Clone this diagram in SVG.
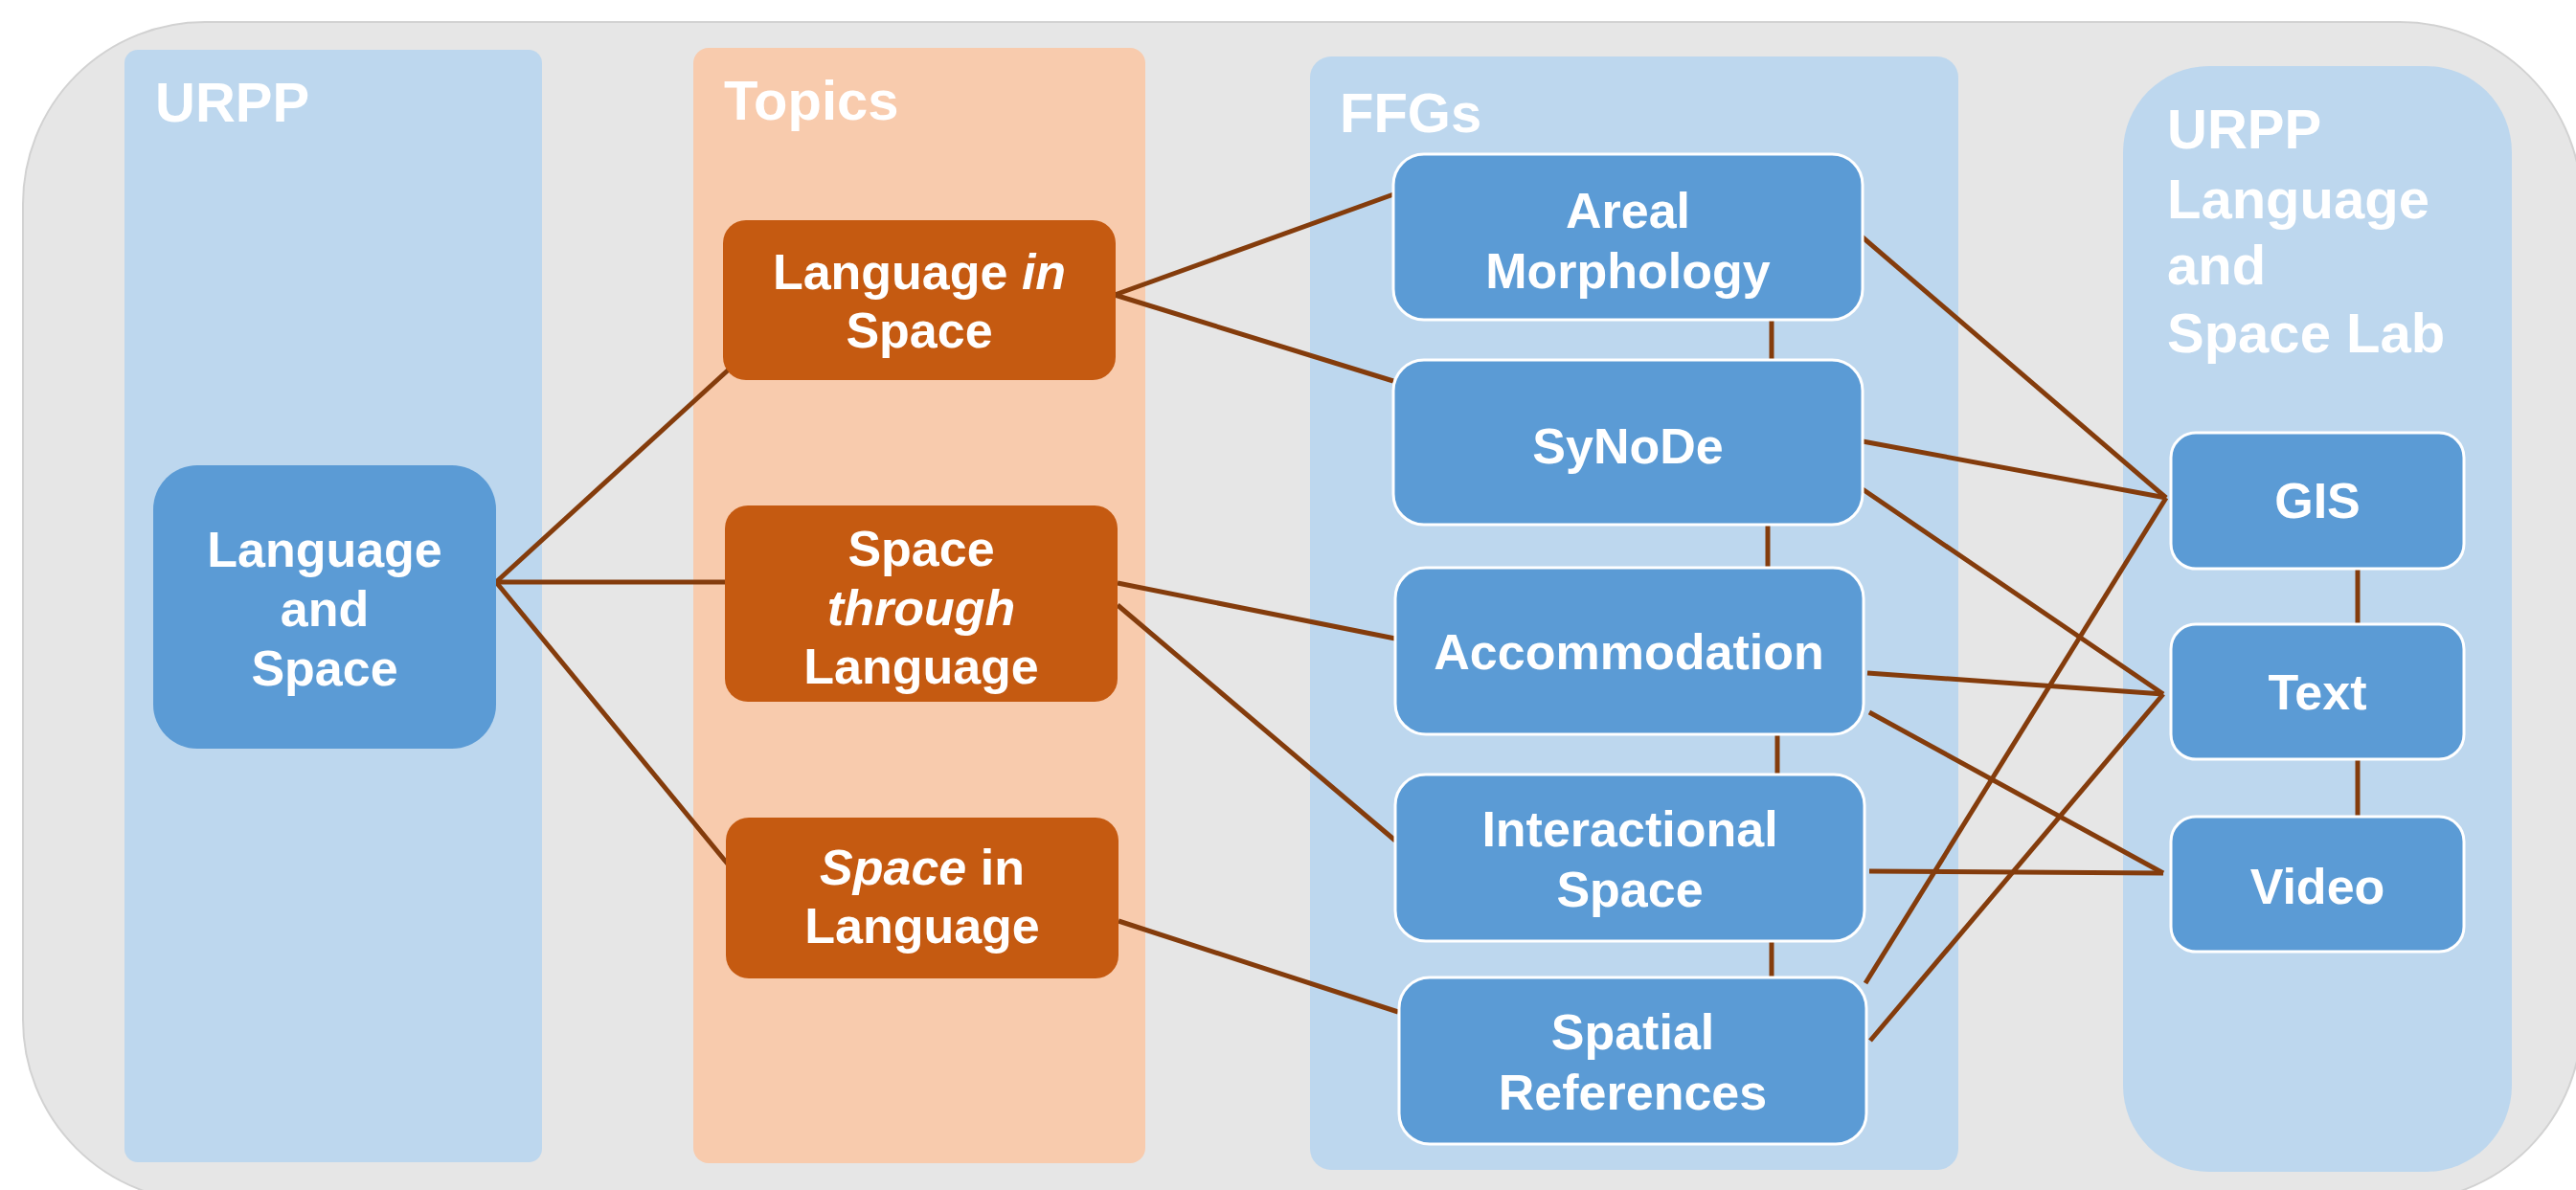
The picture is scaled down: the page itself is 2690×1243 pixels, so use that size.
<svg xmlns="http://www.w3.org/2000/svg" width="2690" height="1243" viewBox="0 0 2690 1243">
<style>
.bg{fill:#E6E6E6;stroke:#D2D2D2;stroke-width:2}
.colb{fill:#BDD7EE}
.colo{fill:#F8CBAD}
.hdr{fill:#FFFFFF;font-family:"Liberation Sans",Arial,sans-serif;font-weight:bold;font-size:58px}
.nb{fill:#5B9BD5}
.nbw{fill:#5B9BD5;stroke:#FFFFFF;stroke-width:3}
.no{fill:#C55A11}
.t{fill:#FFFFFF;font-family:"Liberation Sans",Arial,sans-serif;font-weight:bold;font-size:52px;text-anchor:middle}
.i{font-style:italic}
.ln{stroke:#843C0C;stroke-width:5;fill:none;stroke-linecap:butt}
</style>
<rect width="2690" height="1243" fill="#FFFFFF"/>
<rect class="bg" x="24" y="23" width="2672" height="1232" rx="190" ry="190"/>
<g id="col-urpp">
<rect class="colb" x="130" y="52" width="436" height="1162" rx="14"/>
<text class="hdr" x="162" y="127">URPP</text>
</g>
<g id="col-topics">
<rect class="colo" x="724" y="50" width="472" height="1165" rx="16"/>
<text class="hdr" x="756" y="125">Topics</text>
</g>
<g id="col-ffgs">
<rect class="colb" x="1368" y="59" width="677" height="1163" rx="22"/>
<text class="hdr" x="1399" y="138">FFGs</text>
</g>
<g id="col-lab">
<rect class="colb" x="2217" y="69" width="406" height="1155" rx="90"/>
<text class="hdr" x="2263" y="155">URPP</text>
<text class="hdr" x="2263" y="228">Language</text>
<text class="hdr" x="2263" y="297">and</text>
<text class="hdr" x="2263" y="368">Space Lab</text>
</g>
<g id="connectors">
<line class="ln" x1="518" y1="608" x2="762" y2="385"/>
<line class="ln" x1="518" y1="608" x2="757" y2="608"/>
<line class="ln" x1="518" y1="608" x2="762" y2="905"/>
<line class="ln" x1="1164" y1="308" x2="1458" y2="202"/>
<line class="ln" x1="1164" y1="308" x2="1455" y2="398"/>
<line class="ln" x1="1167" y1="609" x2="1457" y2="667"/>
<line class="ln" x1="1167" y1="632" x2="1457" y2="878"/>
<line class="ln" x1="1168" y1="962" x2="1460" y2="1057"/>
<line class="ln" x1="1944" y1="247" x2="2262" y2="520"/>
<line class="ln" x1="1945" y1="461" x2="2262" y2="520"/>
<line class="ln" x1="1945" y1="511" x2="2259" y2="725"/>
<line class="ln" x1="1950" y1="703" x2="2259" y2="725"/>
<line class="ln" x1="1952" y1="744" x2="2259" y2="912"/>
<line class="ln" x1="1952" y1="910" x2="2259" y2="912"/>
<line class="ln" x1="1948" y1="1027" x2="2262" y2="520"/>
<line class="ln" x1="1953" y1="1087" x2="2259" y2="725"/>
<line class="ln" x1="1850" y1="333" x2="1850" y2="377"/>
<line class="ln" x1="1846" y1="548" x2="1846" y2="593"/>
<line class="ln" x1="1856" y1="767" x2="1856" y2="809"/>
<line class="ln" x1="1850" y1="983" x2="1850" y2="1021"/>
<line class="ln" x1="2462" y1="594" x2="2462" y2="652"/>
<line class="ln" x1="2462" y1="793" x2="2462" y2="853"/>
</g>
<g id="n-language-and-space">
<rect class="nb" x="160" y="486" width="358" height="296" rx="46"/>
<text class="t" x="339" y="592">Language</text>
<text class="t" x="339" y="654">and</text>
<text class="t" x="339" y="716">Space</text>
</g>
<g id="n-language-in-space">
<rect class="no" x="755" y="230" width="410" height="167" rx="24"/>
<text class="t" x="960" y="302">Language <tspan class="i">in</tspan></text>
<text class="t" x="960" y="363">Space</text>
</g>
<g id="n-space-through-language">
<rect class="no" x="757" y="528" width="410" height="205" rx="24"/>
<text class="t" x="962" y="591">Space</text>
<text class="t i" x="962" y="653">through</text>
<text class="t" x="962" y="714">Language</text>
</g>
<g id="n-space-in-language">
<rect class="no" x="758" y="854" width="410" height="168" rx="24"/>
<text class="t" x="963" y="924"><tspan class="i">Space</tspan> in</text>
<text class="t" x="963" y="985">Language</text>
</g>
<g id="n-areal-morphology">
<rect class="nbw" x="1455" y="161" width="490" height="173" rx="32"/>
<text class="t" x="1700" y="238">Areal</text>
<text class="t" x="1700" y="301">Morphology</text>
</g>
<g id="n-synode">
<rect class="nbw" x="1455" y="376" width="490" height="172" rx="32"/>
<text class="t" x="1700" y="484">SyNoDe</text>
</g>
<g id="n-accommodation">
<rect class="nbw" x="1457" y="593" width="489" height="174" rx="32"/>
<text class="t" x="1701" y="699">Accommodation</text>
</g>
<g id="n-interactional-space">
<rect class="nbw" x="1457" y="809" width="490" height="174" rx="32"/>
<text class="t" x="1702" y="884">Interactional</text>
<text class="t" x="1702" y="947">Space</text>
</g>
<g id="n-spatial-references">
<rect class="nbw" x="1461" y="1021" width="488" height="174" rx="32"/>
<text class="t" x="1705" y="1096">Spatial</text>
<text class="t" x="1705" y="1159">References</text>
</g>
<g id="n-gis">
<rect class="nbw" x="2267" y="452" width="306" height="142" rx="26"/>
<text class="t" x="2420" y="541">GIS</text>
</g>
<g id="n-text">
<rect class="nbw" x="2267" y="652" width="306" height="141" rx="26"/>
<text class="t" x="2420" y="741">Text</text>
</g>
<g id="n-video">
<rect class="nbw" x="2267" y="853" width="306" height="141" rx="26"/>
<text class="t" x="2420" y="944">Video</text>
</g>
</svg>
